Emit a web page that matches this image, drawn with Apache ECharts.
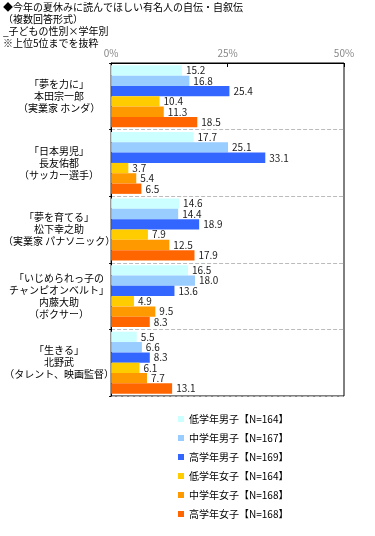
<!DOCTYPE html>
<html>
<head>
<meta charset="utf-8">
<script src="https://cdn.jsdelivr.net/npm/echarts@6/dist/echarts.min.js"></script>
<style>
  html, body { margin: 0; padding: 0; background: #fff; }
  #main { width: 375px; height: 536px; }
</style>
</head>
<body>
<div id="main"></div>
<script>
// 有名人（カテゴリ）
var categories = [
  "「夢を力に」\n本田宗一郎\n（実業家 ホンダ）",
  "「日本男児」\n長友佑都\n（サッカー選手）",
  "「夢を育てる」\n松下幸之助\n（実業家 パナソニック）",
  "「いじめられっ子の\nチャンピオンベルト」\n内藤大助\n（ボクサー）",
  "「生きる」\n北野武\n（タレント、映画監督）"
];
// 系列名
var seriesNames = [
  "低学年男子【N=164】",
  "中学年男子【N=167】",
  "高学年男子【N=169】",
  "低学年女子【N=164】",
  "中学年女子【N=168】",
  "高学年女子【N=168】"
];
// 値（%）
var lowBoys = [15.2, 17.7, 14.6, 16.5, 5.5];
var midBoys = [16.8, 25.1, 14.4, 18.0, 6.6];
var highBoys = [25.4, 33.1, 18.9, 13.6, 8.3];
var lowGirls = [10.4, 3.7, 7.9, 4.9, 6.1];
var midGirls = [11.3, 5.4, 12.5, 9.5, 7.7];
var highGirls = [18.5, 6.5, 17.9, 8.3, 13.1];
var xTicks = [0, 25, 50];

var colors = ["#CCFFFF", "#99CCFF", "#3366FF", "#FFCC00", "#FF9900", "#FF6600"];
var allData = [lowBoys, midBoys, highBoys, lowGirls, midGirls, highGirls];

var series = [];
for (var i = 0; i < allData.length; i++) {
  series.push({
    name: seriesNames[i],
    type: "bar",
    data: allData[i],
    barGap: "0%",
    barCategoryGap: "7%",
    animation: false,
    itemStyle: { color: colors[i] },
    label: {
      show: true,
      position: "right",
      distance: 4,
      fontSize: 10,
      color: "#222",
      formatter: function (p) { return p.value.toFixed(1); }
    }
  });
}

var myChart = echarts.init(document.getElementById("main"));
myChart.setOption({
  textStyle: { fontFamily: "Noto Sans CJK JP" },
  color: colors,
  title: {
    text: "◆今年の夏休みに読んでほしい有名人の自伝・自叙伝\n（複数回答形式）\n_子どもの性別×学年別\n※上位5位までを抜粋",
    left: 3,
    top: 1,
    padding: 0,
    textStyle: {
      fontSize: 10,
      fontWeight: "normal",
      color: "#000",
      lineHeight: 12,
      fontFamily: "Noto Sans CJK JP"
    }
  },
  legend: {
    orient: "vertical",
    left: 173,
    top: 409,
    itemWidth: 6,
    itemHeight: 6,
    itemGap: 9,
    icon: "rect",
    textStyle: { fontSize: 10, color: "#000" },
    data: seriesNames
  },
  grid: {
    left: 111,
    right: 31,
    top: 63,
    bottom: 140,
    show: true,
    borderColor: "#000",
    borderWidth: 1
  },
  xAxis: {
    type: "value",
    position: "top",
    min: xTicks[0],
    max: xTicks[xTicks.length - 1],
    interval: 25,
    axisLine: { show: true, lineStyle: { color: "#000" } },
    axisTick: { show: true, inside: true, length: 4, lineStyle: { color: "#000" } },
    axisLabel: { color: "#888", fontSize: 10, margin: 5, formatter: "{value}%" },
    splitLine: { show: false }
  },
  yAxis: {
    type: "category",
    inverse: true,
    data: categories,
    axisLine: { show: true, lineStyle: { color: "#000" } },
    axisTick: { show: true, length: 2, lineStyle: { color: "#000" } },
    axisLabel: {
      fontSize: 10,
      lineHeight: 12,
      color: "#000",
      align: "center",
      margin: 52
    },
    splitLine: { show: true, lineStyle: { color: "#bbb", type: "dashed" } }
  },
  series: series
});
</script>
</body>
</html>
